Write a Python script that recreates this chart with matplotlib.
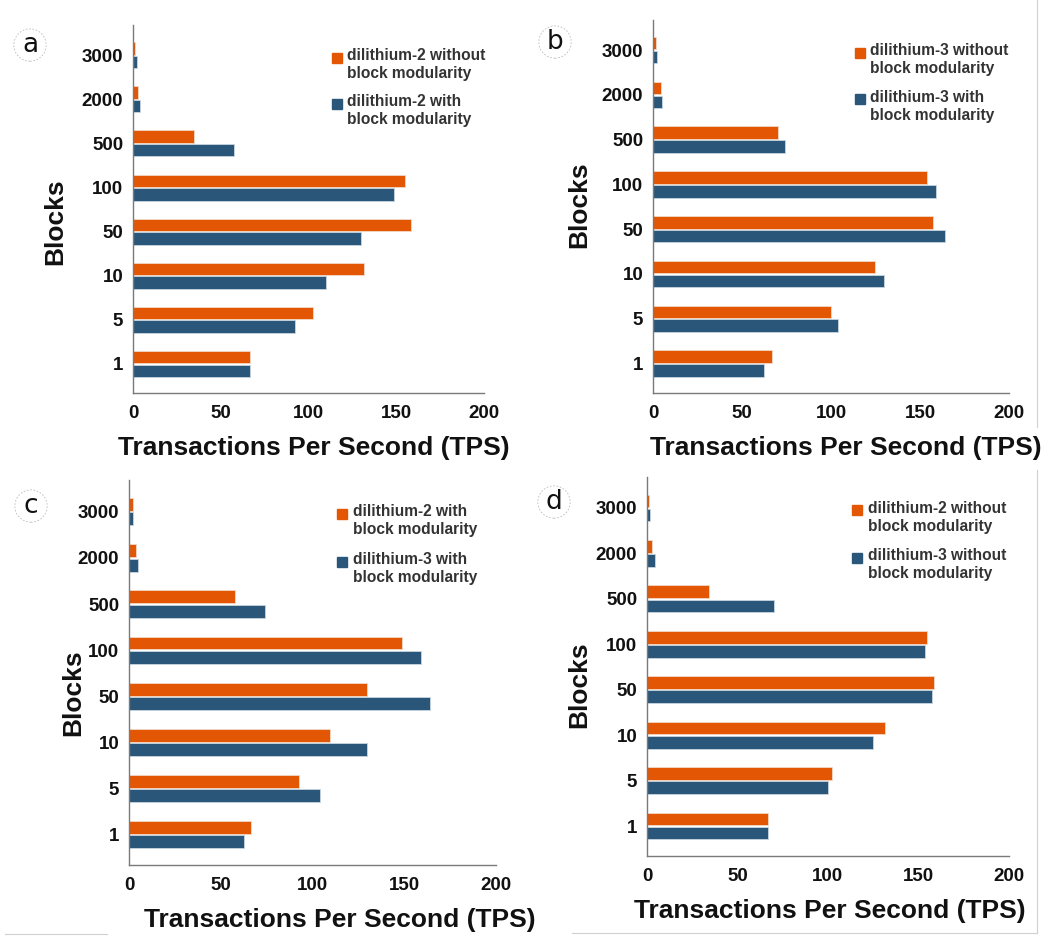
import numpy as np
import matplotlib
matplotlib.use("Agg")
import matplotlib.pyplot as plt
from matplotlib.lines import Line2D

plt.rcParams['font.family'] = ['Liberation Sans', 'DejaVu Sans']

# Data (TPS per block count)
blocks = ['1', '5', '10', '50', '100', '500', '2000', '3000']
d2_without = [66.8, 102.2, 131.5, 158.4, 155.0, 34.5, 3.0, 0.9]
d2_with = [66.7, 92.5, 109.7, 129.7, 148.6, 57.6, 3.9, 2.0]
d3_without = [66.8, 100.1, 124.7, 157.5, 153.8, 70.1, 4.5, 1.7]
d3_with = [62.5, 103.9, 129.7, 163.8, 158.9, 73.9, 4.9, 2.2]

ORANGE = '#E35604'
BLUE = '#2A5779'

# panel letter, axes rect, (orange series, label), (blue series, label),
# xlabel coords, ylabel coords, letter position
panels = [
    ('a', [0.1254, 0.581, 0.331, 0.392],
     (d2_without, 'dilithium-2 without\nblock modularity'),
     (d2_with, 'dilithium-2 with\nblock modularity'),
     (0.516, -0.118), (-0.188, 0.465), (30, 45)),
    ('b', [0.6155, 0.581, 0.3355, 0.398],
     (d3_without, 'dilithium-3 without\nblock modularity'),
     (d3_with, 'dilithium-3 with\nblock modularity'),
     (0.542, -0.116), (-0.174, 0.504), (555, 42)),
    ('c', [0.1216, 0.0778, 0.346, 0.410],
     (d2_with, 'dilithium-2 with\nblock modularity'),
     (d3_with, 'dilithium-3 with\nblock modularity'),
     (0.575, -0.112), (-0.12, 0.447), (31, 506)),
    ('d', [0.6098, 0.0874, 0.341, 0.404],
     (d2_without, 'dilithium-2 without\nblock modularity'),
     (d3_without, 'dilithium-3 without\nblock modularity'),
     (0.504, -0.114), (-0.154, 0.451), (554, 502)),
]

fig = plt.figure(figsize=(10.61, 9.38), dpi=100)
W, H = 1061, 938

y = np.arange(len(blocks))
bar_h = 0.28
off = 0.155

for letter, rect, (s1, l1), (s2, l2), xl, yl, lp in panels:
    ax = fig.add_axes(rect)
    ax.barh(y + off, s1, height=bar_h, color=ORANGE, edgecolor='#f3d9c8', linewidth=0.6)
    ax.barh(y - off, s2, height=bar_h, color=BLUE, edgecolor='#c9d6e0', linewidth=0.6)

    ax.set_xlim(0, 200)
    ax.set_ylim(-0.66, 7.68)
    ax.set_xticks([0, 50, 100, 150, 200])
    ax.set_yticks(y)
    ax.set_yticklabels(blocks)
    ax.tick_params(axis='both', length=0, labelsize=13.5, colors='#111111')
    ax.tick_params(axis='x', pad=8.5)
    ax.tick_params(axis='y', pad=7)
    for lab in ax.get_xticklabels() + ax.get_yticklabels():
        lab.set_fontweight('bold')

    for side in ['top', 'right']:
        ax.spines[side].set_visible(False)
    for side in ['left', 'bottom']:
        ax.spines[side].set_color('#7a7a7a')
        ax.spines[side].set_linewidth(1.0)

    ax.set_xlabel('Transactions Per Second (TPS)', fontsize=19, fontweight='bold', color='#111111')
    ax.set_ylabel('Blocks', fontsize=19, fontweight='bold', color='#111111')
    ax.xaxis.set_label_coords(*xl)
    ax.yaxis.set_label_coords(*yl)

    # hand-made legend so the marker sits on the first text line
    for (lab, col, ym) in [(l1, ORANGE, 0.912), (l2, BLUE, 0.787)]:
        ax.plot([0.58], [ym], marker='s', markersize=6.5, color=col,
                transform=ax.transAxes, clip_on=False, linestyle='none')
        ax.text(0.61, ym + 0.026, lab, transform=ax.transAxes, fontsize=11.2,
                fontweight='bold', color='#333333', va='top',
                linespacing=1.25)

    fig.text(lp[0] / W, 1 - lp[1] / H, letter, fontsize=19, color='#111111',
             family='DejaVu Sans', ha='center', va='center',
             bbox=dict(boxstyle='circle,pad=0.12', fc='white', ec='#bbbbbb',
                       ls=(0, (2, 2)), lw=0.6))

# faint crop borders seen in the reference
for xs, ys in [([1037, 1037], [0, 427]), ([1037, 1037], [470, 933]),
               ([572, 1037], [933, 933]), ([5, 107], [934, 934])]:
    fig.add_artist(Line2D([v / W for v in xs], [1 - v / H for v in ys],
                          color='#d0d0d0', lw=0.8))

fig.savefig('out.png', dpi=100)
